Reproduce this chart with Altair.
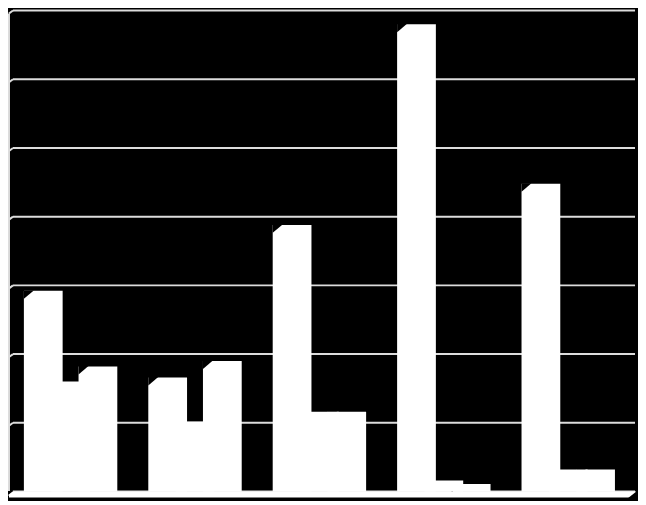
import altair as alt
import pandas as pd

groups = ["1", "2", "3", "4", "5"]
series = ["Série 1", "Série 2", "Série 3"]
s1 = [14.6, 8.3, 19.4, 34.0, 22.4]
s2 = [8.0, 5.1, 5.8, 0.8, 1.6]
s3 = [9.1, 9.5, 5.8, 0.55, 1.6]
gridvals = [0, 5, 10, 15, 20, 25, 30, 35]

rows = []
for name, vals in zip(series, [s1, s2, s3]):
    for g, v in zip(groups, vals):
        rows.append({"group": g, "series": name, "value": v})
df = pd.DataFrame(rows)
grid_df = pd.DataFrame({"v": gridvals})
one = pd.DataFrame({"k": [0]})

W, H = 626, 484
GRID = "#dcdcdc"

xscale = alt.Scale(domain=groups, paddingInner=0, paddingOuter=0)
xoff = alt.Scale(domain=series, paddingInner=0, paddingOuter=0.776, align=0.392)
yscale = alt.Scale(domain=[0, 35], nice=False, zero=True)

X = alt.X("group:N", scale=xscale, axis=None)
XO = alt.XOffset("series:N", scale=xoff)
Y = alt.Y("value:Q", scale=yscale, axis=None)

grid = alt.Chart(grid_df).mark_rule(color=GRID, strokeWidth=2).encode(
    y=alt.Y("v:Q", scale=yscale, axis=None), x=alt.value(0), x2=alt.value(W)
)
slants = alt.Chart(grid_df).mark_rule(color=GRID, strokeWidth=2, yOffset=3).encode(
    y=alt.Y("v:Q", scale=yscale, axis=None), y2="v:Q", x=alt.value(-4), x2=alt.value(0)
)
wall = alt.Chart(one).mark_rule(color=GRID, strokeWidth=2).encode(
    x=alt.value(-4), y=alt.value(3), y2=alt.value(H + 4)
)
floor = alt.Chart(one).mark_rect(color="white", opacity=1).encode(
    x=alt.value(-4), x2=alt.value(W + 1), y=alt.value(H), y2=alt.value(H + 6)
)
cut_r = alt.Chart(one).mark_point(
    shape="M 1 -0.5 L 1 7 L -8.5 7 Z", size=4, filled=True, color="black", opacity=1, strokeWidth=0
).encode(x=alt.value(W + 1), y=alt.value(H))
cut_l = alt.Chart(one).mark_point(
    shape="M 0.3 -0.5 L -5 -0.5 L -5 3.6 Z", size=4, filled=True, color="black", opacity=1, strokeWidth=0
).encode(x=alt.value(0), y=alt.value(H))


def bar_layer(s):
    return alt.Chart(df).transform_filter(alt.datum.series == s).mark_bar(
        color="white", width=39, opacity=1, strokeWidth=0
    ).encode(x=X, xOffset=XO, y=Y)


def tri_layer(s):
    return alt.Chart(df).transform_filter(alt.datum.series == s).mark_point(
        shape="M -19.5 -0.5 L -9.5 -0.5 L -19.5 8 Z", size=4, filled=True,
        color="black", opacity=1, strokeWidth=0
    ).encode(x=X, xOffset=XO, y=Y)


chart = alt.layer(
    grid, slants, wall, floor, cut_r, cut_l,
    bar_layer(series[2]), tri_layer(series[2]),
    bar_layer(series[1]), tri_layer(series[1]),
    bar_layer(series[0]), tri_layer(series[0]),
).properties(
    width=W, height=H,
    padding={"left": 5, "top": 1, "right": 3, "bottom": 8},
    autosize=alt.AutoSizeParams(type="none"),
).configure(background="black").configure_view(stroke=None)

chart.save("out.html", embed_options={"renderer": "svg", "actions": False})
